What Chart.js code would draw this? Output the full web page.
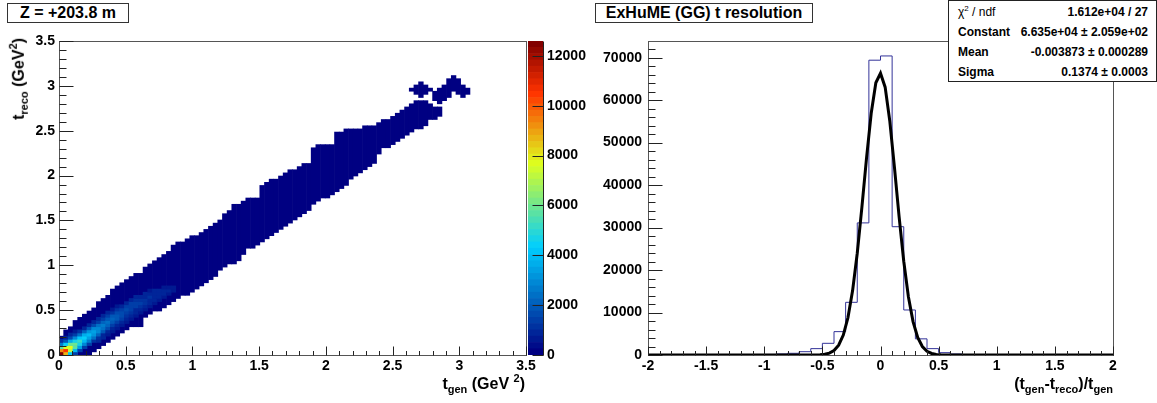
<!DOCTYPE html>
<html>
<head>
<meta charset="utf-8">
<title>ExHuME (GG) t resolution</title>
<script src="https://cdn.jsdelivr.net/npm/chart.js@4.4.1/dist/chart.umd.min.js"></script>
<style>
  html, body { margin: 0; padding: 0; background: #fff; }
  body {
    width: 1157px; height: 403px; position: relative; overflow: hidden;
    font-family: 'Liberation Sans', Arial, sans-serif; font-weight: bold; color: #000;
  }
  canvas { position: absolute; top: 0; }
  #cLeft { left: 0; }
  #cBar { left: 528px; }
  #cRight { left: 590px; }
  .box {
    position: absolute; box-sizing: border-box; background: #fff;
    border: 1px solid #333; font-size: 16px; line-height: 18px; text-align: center;
  }
  #title1 { left: 7px; top: 3px; width: 122px; height: 20px; }
  #title2 { left: 595px; top: 3px; width: 218px; height: 20px; }
  #stats {
    position: absolute; left: 948px; top: 0; width: 209px; height: 82px;
    box-sizing: border-box; border: 1px solid #222; background: #fff;
    padding: 1px 8px 0 9px; font-size: 12px;
  }
  #stats .row { display: flex; justify-content: space-between; height: 20px; line-height: 20px; }
  #stats sup { font-size: 8px; vertical-align: 5px; line-height: 0; }
  .axt { position: absolute; font-size: 16px; line-height: 20px; white-space: nowrap; }
  .axt sub { font-size: 11px; vertical-align: -4px; line-height: 0; }
  .axt sup { font-size: 11px; vertical-align: 7px; line-height: 0; }
  #xt1 { right: 632px; top: 374px; }
  #xt2 { right: 44px; top: 374px; }
  #yt1 { position: absolute; left: 9px; top: 38px; width: 0; height: 0; }
  #yt1 .axt { right: 0; top: 0; transform-origin: top right; transform: rotate(-90deg); }
</style>
</head>
<body>
<canvas id="cLeft" width="545" height="403"></canvas>
<canvas id="cBar" width="60" height="403"></canvas>
<canvas id="cRight" width="567" height="403"></canvas>

<div class="box" id="title1">Z = +203.8 m</div>
<div class="box" id="title2">ExHuME (GG) t resolution</div>

<div id="stats">
  <div class="row"><span style="font-weight:normal">&chi;<sup>2</sup> / ndf</span><span>1.612e+04 / 27</span></div>
  <div class="row"><span>Constant</span><span>6.635e+04 &plusmn; 2.059e+02</span></div>
  <div class="row"><span>Mean</span><span>-0.003873 &plusmn; 0.000289</span></div>
  <div class="row"><span>Sigma</span><span>0.1374 &plusmn; 0.0003</span></div>
</div>

<div class="axt" id="xt1">t<sub>gen</sub> (GeV <sup>2</sup>)</div>
<div id="yt1"><div class="axt">t<sub>reco</sub> (GeV<sup>2</sup>)</div></div>
<div class="axt" id="xt2">(t<sub>gen</sub>-t<sub>reco</sub>)/t<sub>gen</sub></div>

<script>
/* ---- t_reco vs t_gen (2D, 100 x 100 bins of 0.035 GeV^2) ---------- */
const T_BIN = 0.035;
const T_MAX = 3.5;
const tTicks = [0, 0.5, 1, 1.5, 2, 2.5, 3, 3.5];

// filled rows per t_gen column: first and last t_reco bin index
const colLo = [0, 0, 0, 0, 0, 0, 0, 1, 2, 3,
  4, 5, 6, 7, 8, 9, 9, 9, 12, 13,
  14, 14, 15, 16, 17, 18, 19, 19, 20, 21,
  22, 23, 24, 25, 27, 28, 29, 29, 30, 32,
  34, 34, 35, 36, 37, 38, 39, 40, 41, 42,
  43, 44, 45, 46, 48, 49, 50, 50, 51, 52,
  53, 54, 56, 57, 58, 59, 60, 61, 64, 66,
  66, 67, 68, 69, 70, 71, 72, 72, 73, 75,
  75, 76];
const colHi = [5, 7, 8, 10, 11, 12, 13, 14, 16, 17,
  18, 20, 21, 22, 23, 24, 25, 25, 27, 28,
  29, 30, 31, 32, 34, 35, 35, 36, 37, 37,
  38, 39, 40, 41, 42, 44, 45, 47, 47, 48,
  49, 49, 49, 53, 54, 55, 55, 56, 57, 58,
  58, 59, 60, 60, 65, 66, 66, 66, 66, 70,
  70, 71, 71, 71, 71, 72, 72, 72, 73, 74,
  74, 75, 76, 77, 78, 79, 80, 80, 80, 79,
  78, 78];

// detached clusters at large t: [column, first row, last row]
const islands = [[75, 84, 84], [76, 83, 85], [77, 82, 86], [78, 83, 85], [79, 84, 84],
  [80, 81, 83], [81, 80, 84], [82, 81, 85], [83, 82, 87], [84, 84, 88],
  [85, 83, 87], [86, 82, 85], [87, 83, 84]];

// typical content of a populated cell away from the ridge
const BASE_COUNT = 150;

// ridge counts per column: [first row, counts upward...]
const ridge = [
  [0, 12600, 9200, 5600, 2600, 1200],
  [0, 8600, 10400, 7600, 4400, 2000, 900],
  [0, 4200, 7200, 7800, 6000, 3600, 1700, 800],
  [0, 1400, 4000, 5600, 5900, 4700, 2900, 1400, 700],
  [1, 1500, 3400, 4600, 5100, 4200, 2500, 1200],
  [2, 1400, 2900, 4000, 4300, 3600, 2100, 1000],
  [3, 1300, 2600, 3500, 3800, 3200, 1900, 900],
  [4, 1200, 2300, 3100, 3300, 2800, 1700, 900],
  [4, 800, 1100, 2100, 2800, 3000, 2500, 1500, 800],
  [5, 800, 1000, 1900, 2500, 2700, 2200, 1400, 800],
  [6, 700, 1000, 1700, 2200, 2400, 2000, 1300, 800],
  [7, 700, 900, 1500, 2000, 2100, 1800, 1200, 700],
  [8, 700, 900, 1400, 1800, 1900, 1600, 1100, 700],
  [9, 700, 900, 1300, 1600, 1700, 1500, 1000],
  [10, 700, 800, 1200, 1500, 1600, 1400, 900],
  [11, 700, 800, 1100, 1400, 1500, 1300, 900],
  [12, 700, 800, 1000, 1300, 1400, 1200, 800],
  [13, 700, 900, 1200, 1300, 1100, 800],
  [14, 700, 900, 1100, 1200, 1000, 800],
  [15, 700, 800, 1000, 1100, 900, 700],
  [16, 700, 800, 1000, 1000, 900],
  [17, 700, 900, 900, 800],
  [18, 700, 800, 800, 700],
  [19, 700, 800, 700],
  [20, 700, 700]
];

const Z_MAX = 12600;
const zTicks = [0, 2000, 4000, 6000, 8000, 10000, 12000];
const N_CONT = 50;

/* ---- (t_gen - t_reco)/t_gen (1D, 40 bins of 0.1) ------------------ */
const RES_LO = -2;
const RES_HI = 2;
const RES_BIN = 0.1;
const resCounts = [0, 10, 15, 20, 25, 30, 40, 50, 60, 80,
  130, 240, 400, 780, 1500, 2750, 5500, 12400, 31100, 69400,
  70400, 30200, 10600, 3800, 1500, 550, 230, 100, 50, 20,
  10, 0, 0, 0, 0, 0, 0, 0, 0, 0];
const resXTicks = [-2, -1.5, -1, -0.5, 0, 0.5, 1, 1.5, 2];
const resYTicks = [0, 10000, 20000, 30000, 40000, 50000, 60000, 70000];

// gaus fit result
const FIT_CONST = 6.635e4;
const FIT_MEAN = -0.003873;
const FIT_SIGMA = 0.1374;
const FIT_NPX = 100;

/* ---- palette: rainbow gradient, navy -> cyan -> yellow -> dark red -- */
const PAL_STOPS = [0.00, 0.34, 0.61, 0.84, 1.00];
const PAL_R = [0.00, 0.00, 0.87, 1.00, 0.51];
const PAL_G = [0.00, 0.81, 1.00, 0.20, 0.00];
const PAL_B = [0.51, 1.00, 0.12, 0.00, 0.00];

function paletteAt(f) {
  let i = 0;
  while (i < PAL_STOPS.length - 2 && f > PAL_STOPS[i + 1]) i++;
  const t = (f - PAL_STOPS[i]) / (PAL_STOPS[i + 1] - PAL_STOPS[i]);
  const c = arr => Math.round(255 * (arr[i] + t * (arr[i + 1] - arr[i])));
  return `rgb(${c(PAL_R)},${c(PAL_G)},${c(PAL_B)})`;
}
const levelColor = k => paletteAt(k / (N_CONT - 1));
const zColor = z => levelColor(Math.min(N_CONT - 1, Math.floor(z / Z_MAX * N_CONT)));

/* ---- axis ticks and frame drawn the way ROOT does (inward, minor+major) */
const rootAxes = {
  id: 'rootAxes',
  afterDatasetsDraw(chart, args, opts) {
    if (!opts.axes) return;
    const { ctx, chartArea: a } = chart;
    const L = Math.round(a.left) + 0.5, R = Math.round(a.right) + 0.5;
    const T = Math.round(a.top) + 0.5, B = Math.round(a.bottom) + 0.5;
    ctx.save();
    ctx.lineWidth = 1;
    if (opts.frame) {
      ctx.strokeStyle = opts.frame;
      ctx.strokeRect(L, T, R - L, B - T);
    }
    ctx.strokeStyle = opts.color || '#222';
    ctx.beginPath();
    opts.axes.forEach(ax => {
      const s = chart.scales[ax.id];
      const n = Math.floor((s.max - s.min) / ax.step + 1e-6);
      if (ax.line) {
        if (s.position === 'right') { ctx.moveTo(R, T); ctx.lineTo(R, B); }
      }
      for (let k = 0; k <= n; k++) {
        const p = Math.round(s.getPixelForValue(s.min + k * ax.step)) + 0.5;
        const len = k % ax.every === 0 ? ax.major : ax.minor;
        if (s.position === 'bottom') { ctx.moveTo(p, B); ctx.lineTo(p, B - len); }
        else if (s.position === 'left') { ctx.moveTo(L, p); ctx.lineTo(L + len, p); }
        else { ctx.moveTo(R, p); ctx.lineTo(R - len, p); }
      }
    });
    ctx.stroke();
    ctx.restore();
  }
};
Chart.register(rootAxes);

Chart.defaults.font.family = "'Liberation Sans', Arial, sans-serif";
Chart.defaults.font.size = 14;
Chart.defaults.font.weight = 'bold';
Chart.defaults.color = '#000';
Chart.defaults.animation = false;
Chart.defaults.events = [];
Chart.defaults.plugins.legend.display = false;
Chart.defaults.plugins.tooltip.enabled = false;
Chart.defaults.plugins.colors.enabled = false;

const plainAxis = { grid: { display: false, drawTicks: false }, border: { display: false } };
const fixedTicks = list => s => { s.ticks = list.map(v => ({ value: v })); };
const plainLabel = v => String(v);

/* ---- left: 2D histogram ------------------------------------------- */
const colCenter = i => (i + 0.5) * T_BIN;

const filled = colLo.map((lo, i) => ({ x: colCenter(i), y: [lo * T_BIN, (colHi[i] + 1) * T_BIN], z: BASE_COUNT }));
islands.forEach(([i, lo, hi]) => filled.push({ x: colCenter(i), y: [lo * T_BIN, (hi + 1) * T_BIN], z: BASE_COUNT }));

const ridgeCells = [];
ridge.forEach(([row0, ...counts], i) => {
  counts.forEach((z, j) => ridgeCells.push({ x: colCenter(i), y: [(row0 + j) * T_BIN, (row0 + j + 1) * T_BIN], z }));
});

const cellColor = c => zColor(c.raw ? c.raw.z : 0);

new Chart(document.getElementById('cLeft'), {
  type: 'bar',
  data: {
    datasets: [
      { data: filled, backgroundColor: cellColor, order: 2 },
      { data: ridgeCells, backgroundColor: cellColor, order: 1 }
    ]
  },
  options: {
    responsive: false,
    layout: { padding: { top: 41, right: 19, left: 0, bottom: 0 } },
    datasets: { bar: { grouped: false, barPercentage: 1, categoryPercentage: 1, borderWidth: 0 } },
    plugins: {
      rootAxes: {
        frame: '#555',
        axes: [
          { id: 'x', step: 0.1, every: 5, major: 9, minor: 4.5 },
          { id: 'y', step: 0.1, every: 5, major: 14, minor: 7 }
        ]
      }
    },
    scales: {
      x: {
        ...plainAxis, type: 'linear', offset: false, min: 0, max: T_MAX,
        afterBuildTicks: fixedTicks(tTicks),
        ticks: { padding: 3, maxRotation: 0, autoSkip: false, callback: plainLabel },
        afterFit: s => { s.height = 48; }
      },
      y: {
        ...plainAxis, type: 'linear', min: 0, max: T_MAX,
        afterBuildTicks: fixedTicks(tTicks),
        ticks: { padding: 4, autoSkip: false, callback: plainLabel },
        afterFit: s => { s.width = 59; }
      }
    }
  }
});

/* ---- colour scale ------------------------------------------------- */
const levels = Array.from({ length: N_CONT }, (_, k) => k);
new Chart(document.getElementById('cBar'), {
  type: 'bar',
  data: {
    labels: [''],
    datasets: levels.map(k => ({ data: [Z_MAX / N_CONT], backgroundColor: levelColor(k) }))
  },
  options: {
    responsive: false,
    layout: { padding: { top: 41, bottom: 48, left: 0, right: 0 } },
    datasets: { bar: { barPercentage: 1, categoryPercentage: 1, borderWidth: 0 } },
    plugins: {
      rootAxes: { axes: [{ id: 'y', step: 2000, every: 1, major: 11, minor: 11, line: true }] }
    },
    scales: {
      x: { display: false, stacked: true },
      y: {
        ...plainAxis, position: 'right', stacked: true, min: 0, max: Z_MAX,
        afterBuildTicks: fixedTicks(zTicks),
        ticks: { padding: 4, autoSkip: false, callback: plainLabel },
        afterFit: s => { s.width = 45; }
      }
    }
  }
});

/* ---- right: resolution histogram with gaus fit -------------------- */
const histLine = resCounts.map((c, k) => ({ x: RES_LO + k * RES_BIN, y: c }));
histLine.push({ x: RES_HI, y: resCounts[resCounts.length - 1] });

const fitLine = [];
for (let k = 0; k <= FIT_NPX; k++) {
  const x = RES_LO + (RES_HI - RES_LO) * k / FIT_NPX;
  const u = (x - FIT_MEAN) / FIT_SIGMA;
  fitLine.push({ x, y: FIT_CONST * Math.exp(-0.5 * u * u) });
}

const resMax = Math.max(...resCounts) * 1.05;

new Chart(document.getElementById('cRight'), {
  type: 'line',
  data: {
    datasets: [
      { data: fitLine, borderColor: '#000', borderWidth: 3, pointRadius: 0, tension: 0, order: 1 },
      { data: histLine, borderColor: '#333399', borderWidth: 1, pointRadius: 0, stepped: true, order: 2 }
    ]
  },
  options: {
    responsive: false,
    layout: { padding: { top: 41, right: 44, left: 0, bottom: 0 } },
    plugins: {
      rootAxes: {
        frame: '#555',
        axes: [
          { id: 'x', step: 0.1, every: 5, major: 9, minor: 4.5 },
          { id: 'y', step: 2000, every: 5, major: 14, minor: 7 }
        ]
      }
    },
    scales: {
      x: {
        ...plainAxis, type: 'linear', min: RES_LO, max: RES_HI,
        afterBuildTicks: fixedTicks(resXTicks),
        ticks: { padding: 3, maxRotation: 0, autoSkip: false, callback: plainLabel },
        afterFit: s => { s.height = 48; }
      },
      y: {
        ...plainAxis, type: 'linear', min: 0, max: resMax,
        afterBuildTicks: fixedTicks(resYTicks),
        ticks: { padding: 6, autoSkip: false, callback: plainLabel },
        afterFit: s => { s.width = 58; }
      }
    }
  }
});
</script>
</body>
</html>
